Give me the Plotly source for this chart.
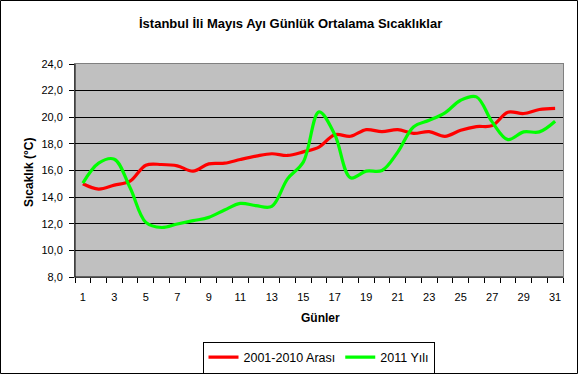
import plotly.graph_objects as go

days = list(range(1, 32))
avg_2001_2010 = [15.0, 14.6, 14.9, 15.2, 16.4, 16.45, 16.35, 15.95, 16.5, 16.55,
                 16.83, 17.08, 17.26, 17.13, 17.4, 17.76, 18.69, 18.57, 19.07, 18.92,
                 19.07, 18.79, 18.92, 18.57, 19.02, 19.3, 19.37, 20.38, 20.28, 20.58, 20.66]
year_2011 = [15.05, 16.55, 16.85, 14.7, 12.1, 11.72, 11.98, 12.23, 12.48, 13.03,
             13.53, 13.36, 13.3, 15.37, 16.63, 20.4, 18.7, 15.45, 15.95, 16.0,
             17.38, 19.27, 19.77, 20.33, 21.28, 21.53, 19.65, 18.32, 18.9, 18.9, 19.7]
tick_days = list(range(1, 32, 2))
y_ticks = list(range(8, 25, 2))

W, H = 578, 374
L, R, T, B = 75, 563, 64, 277
pw, ph = R - L, B - T

def px(x):
    return (x - L) / pw

def py(y):
    return (B - y) / ph

FONT = "Liberation Sans, Arial, sans-serif"

fig = go.Figure()
fig.add_trace(go.Scatter(x=days, y=avg_2001_2010, mode="lines", name="2001-2010 Arası",
                         line=dict(color="#ff0000", width=3.2, shape="spline", smoothing=1)))
fig.add_trace(go.Scatter(x=days, y=year_2011, mode="lines", name="2011 Yılı",
                         line=dict(color="#00ff00", width=3.2, shape="spline", smoothing=1)))

fig.update_layout(
    width=W, height=H,
    margin=dict(l=L, r=W - R, t=T, b=H - B, autoexpand=False),
    paper_bgcolor="white", plot_bgcolor="#c0c0c0",
    separators=",.",
    font=dict(family=FONT, size=11, color="black"),
    showlegend=True,
    legend=dict(orientation="h", xref="container", yref="container",
                x=318.5 / W, xanchor="center", y=1 - 341.5 / H, yanchor="top",
                bordercolor="black", borderwidth=1, bgcolor="white",
                font=dict(family=FONT, size=12.5), itemwidth=30,
                tracegroupgap=0),
    xaxis=dict(range=[0.5, 31.5], tickmode="array", tickvals=tick_days,
               ticktext=[str(d) for d in tick_days], ticks="", showgrid=False,
               ticklabelstandoff=10, automargin=False,
               showline=True, linecolor="#808080", mirror=True, zeroline=False,
               minor=dict(tickmode="linear", tick0=0.5, dtick=1, ticks="outside",
                          ticklen=5, tickcolor="black", showgrid=False),
               tickfont=dict(size=11), fixedrange=True),
    yaxis=dict(range=[8, 24], tickmode="array", tickvals=y_ticks, tickformat=".1f",
               ticks="outside", ticklen=5, tickcolor="black", ticklabelstandoff=4,
               automargin=False,
               showgrid=True, gridcolor="black", gridwidth=1,
               showline=True, linecolor="#808080", mirror=True, zeroline=False,
               tickfont=dict(size=11), fixedrange=True),
)

fig.add_annotation(text="<b>İstanbul İli Mayıs Ayı Günlük Ortalama Sıcaklıklar</b>",
                   xref="paper", yref="paper", x=px(290), y=py(24), xanchor="center",
                   yanchor="middle", showarrow=False, font=dict(family=FONT, size=13))
fig.add_annotation(text="<b>Günler</b>", xref="paper", yref="paper", x=px(320), y=py(318),
                   xanchor="center", yanchor="middle", showarrow=False,
                   font=dict(family=FONT, size=12))
fig.add_annotation(text="<b>Sıcaklık (°C)</b>", xref="paper", yref="paper", x=px(29), y=py(172),
                   xanchor="center", yanchor="middle", textangle=-90, showarrow=False,
                   font=dict(family=FONT, size=12))

# left and bottom axis lines in black, outer chart border
fig.add_shape(type="line", xref="paper", yref="paper", x0=0, x1=0, y0=0, y1=1,
              line=dict(color="black", width=1))
fig.add_shape(type="line", xref="paper", yref="paper", x0=0, x1=1, y0=0, y1=0,
              line=dict(color="black", width=1))
fig.add_shape(type="rect", xref="paper", yref="paper",
              x0=px(0.5), x1=px(W - 0.5), y0=py(H - 0.5), y1=py(0.5),
              line=dict(color="black", width=1), fillcolor="rgba(0,0,0,0)", layer="above")

fig.write_html("out.html", config={"displayModeBar": False},
               post_script="document.body.style.margin='0';document.body.style.overflow='hidden';")
